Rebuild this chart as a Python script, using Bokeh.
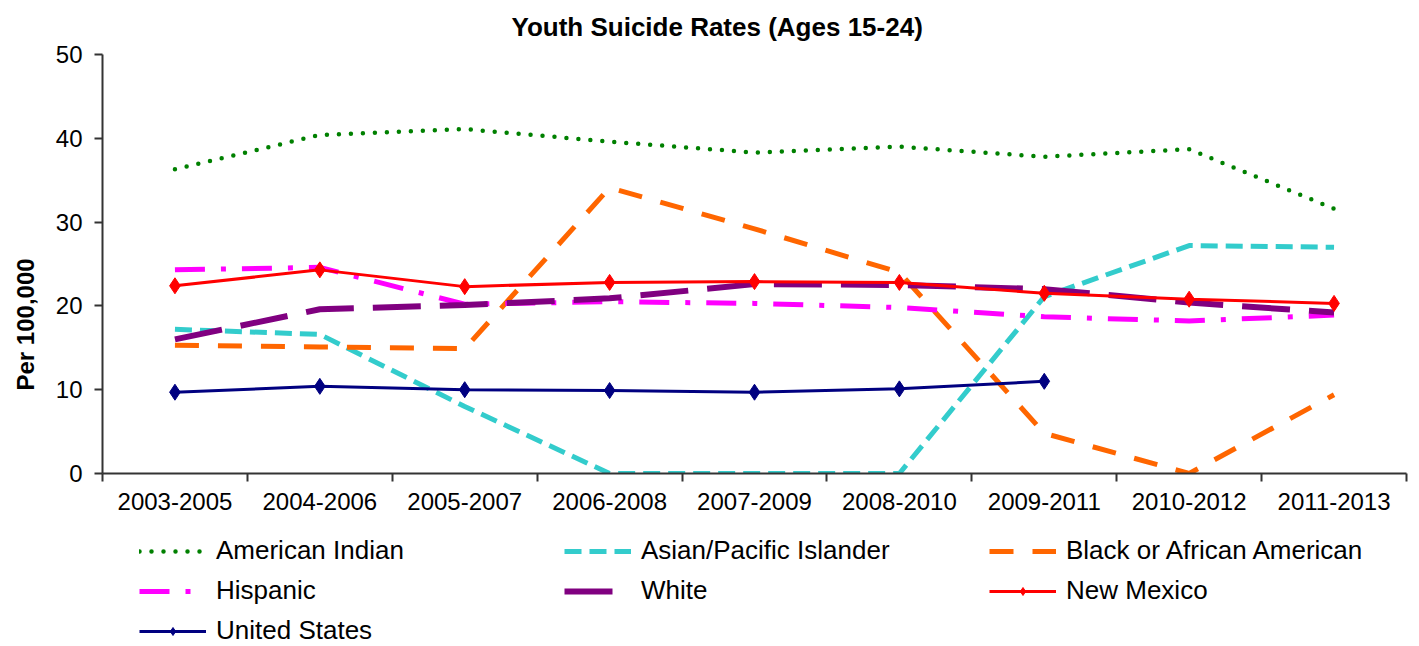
import numpy as np
from bokeh.plotting import figure
from bokeh.layouts import column
from bokeh.models import Range1d, FixedTicker, Legend, LegendItem, Title
from bokeh.embed import file_html
from bokeh.resources import INLINE

# Three-year rolling periods
periods = ["2003-2005", "2004-2006", "2005-2007", "2006-2008", "2007-2009",
           "2008-2010", "2009-2011", "2010-2012", "2011-2013"]

# Suicide rates per 100,000, ages 15-24
american_indian = [36.3, 40.4, 41.1, 39.6, 38.3, 39.0, 37.8, 38.7, 31.6]
asian_pacific = [17.2, 16.6, 8.0, 0.0, 0.0, 0.0, 21.1, 27.2, 27.0]
black_african_american = [15.3, 15.1, 14.9, 34.1, 29.2, 24.0, 4.8, 0.0, 9.4]
hispanic = [24.3, 24.6, 20.2, 20.5, 20.3, 19.8, 18.7, 18.2, 18.9]
white = [16.0, 19.6, 20.1, 20.9, 22.6, 22.5, 22.0, 20.4, 19.2]
new_mexico = [22.4, 24.3, 22.3, 22.8, 22.9, 22.8, 21.5, 20.8, 20.3]
united_states = [9.7, 10.4, 10.0, 9.9, 9.7, 10.1, 11.0]  # available through 2009-2011

y_ticks = [0, 10, 20, 30, 40, 50]

FONT = "Liberation Sans"

# Line style per series
STYLES = {
    "American Indian": dict(line_color="#008000", line_width=4.5, line_dash="0 12", line_cap="round"),
    "Asian/Pacific Islander": dict(line_color="#33CCCC", line_width=5, line_dash="17 8"),
    "Black or African American": dict(line_color="#FF6600", line_width=5, line_dash="24 19"),
    "Hispanic": dict(line_color="#FF00FF", line_width=5, line_dash="30 16 5 16"),
    "White": dict(line_color="#800080", line_width=6, line_dash="48 19"),
    "New Mexico": dict(line_color="#FF0000", line_width=3),
    "United States": dict(line_color="#000080", line_width=3),
}
MARKED = {"New Mexico": "#FF0000", "United States": "#000080"}
MARKER_SIZE = 16

n = len(periods)
centers = np.arange(n) + 0.5          # each period sits in the middle of its slot
boundaries = list(range(n + 1))       # tick marks fall between periods

p = figure(width=1419, height=520, output_backend="svg", toolbar_location=None,
           x_range=Range1d(0, n), y_range=Range1d(0, 50),
           min_border_left=101, min_border_right=13,
           min_border_top=54, min_border_bottom=47)
p.background_fill_color = "white"
p.border_fill_color = "white"
p.outline_line_color = None
p.xgrid.visible = False
p.ygrid.visible = False

# Title
p.title.text = "Youth  Suicide Rates (Ages 15-24)"
p.title.text_font = FONT
p.title.text_font_size = "26px"
p.title.text_font_style = "bold"
p.title.text_color = "black"
p.title.align = "left"
p.title.offset = 409
p.title.vertical_align = "top"
p.title.standoff = 21

# X axis: labels at period centres, ticks on the boundaries
xa = p.xaxis[0]
xa.ticker = FixedTicker(ticks=list(centers), minor_ticks=boundaries)
xa.major_label_overrides = {float(c): lab for c, lab in zip(centers, periods)}
xa.major_tick_out = 0
xa.major_tick_in = 0
xa.minor_tick_out = 8
xa.minor_tick_in = 0
xa.minor_tick_line_color = "#333333"
xa.minor_tick_line_width = 2
xa.axis_line_color = "#333333"
xa.axis_line_width = 2
xa.major_label_text_font = FONT
xa.major_label_text_font_size = "24px"
xa.major_label_text_color = "black"
xa.major_label_standoff = 11

# Y axis
ya = p.yaxis[0]
ya.ticker = FixedTicker(ticks=y_ticks)
ya.major_tick_out = 8
ya.major_tick_in = 0
ya.minor_tick_out = 0
ya.minor_tick_in = 0
ya.major_tick_line_color = "#333333"
ya.major_tick_line_width = 2
ya.axis_line_color = "#333333"
ya.axis_line_width = 2
ya.major_label_text_font = FONT
ya.major_label_text_font_size = "24px"
ya.major_label_text_color = "black"
ya.major_label_standoff = 12

# Y axis title, set lower than the middle of the axis
p.add_layout(Title(text="Per 100,000", align="left", offset=83,
                   vertical_align="top",
                   text_font=FONT, text_font_size="24px",
                   text_font_style="bold", text_color="black",
                   standoff=23), "left")

# Series
series = [
    ("American Indian", american_indian),
    ("Asian/Pacific Islander", asian_pacific),
    ("Black or African American", black_african_american),
    ("Hispanic", hispanic),
    ("White", white),
    ("New Mexico", new_mexico),
    ("United States", united_states),
]
for name, vals in series:
    xs = centers[:len(vals)]
    p.line(xs, vals, **STYLES[name])
    if name in MARKED:
        p.scatter(xs, vals, marker="diamond", size=MARKER_SIZE,
                  fill_color=MARKED[name], line_color=MARKED[name])

# Legend strip under the chart, three columns filled row by row
lg = figure(width=1419, height=126, output_backend="svg", toolbar_location=None,
            x_range=Range1d(0, 1), y_range=Range1d(0, 1),
            x_axis_type=None, y_axis_type=None, min_border=0)
lg.outline_line_color = None
lg.xgrid.visible = False
lg.ygrid.visible = False
items = []
for name, _ in series:
    # key-only renderers: a single empty point, nothing visible in the strip
    rs = [lg.line([np.nan], [np.nan], **STYLES[name])]
    if name in MARKED:
        rs.append(lg.scatter([np.nan], [np.nan], marker="diamond", size=MARKER_SIZE,
                             fill_color=MARKED[name], line_color=MARKED[name]))
    items.append(LegendItem(label=name, renderers=rs))

legend = Legend(items=items, orientation="horizontal", ncols=3, location=(37, 0),
                label_text_font=FONT, label_text_font_size="26px",
                label_text_color="black",
                glyph_width=67, glyph_height=20, label_standoff=10,
                label_width=339, label_height=30, spacing=9,
                padding=0, margin=0,
                border_line_color=None, background_fill_alpha=0)
lg.add_layout(legend)

open("out.html", "w").write(file_html(column(p, lg, spacing=0), INLINE))
